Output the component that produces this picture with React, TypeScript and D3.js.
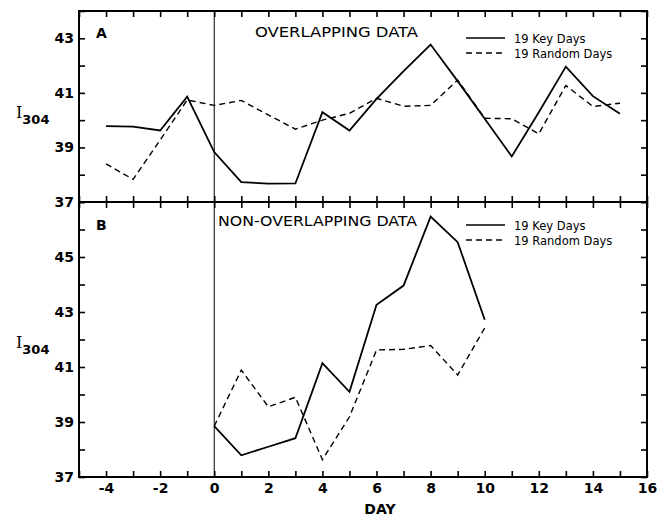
import React, { useRef, useEffect } from 'react';
import * as d3 from 'd3';

// panel A: overlapping data, days -4..15
const daysA = [-4, -3, -2, -1, 0, 1, 2, 3, 4, 5, 6, 7, 8, 9, 10, 11, 12, 13, 14, 15];
const keyA = [39.78, 39.76, 39.62, 40.86, 38.83, 37.73, 37.67, 37.68, 40.29, 39.62, 40.78, 41.8, 42.77, 41.43, 40.05, 38.67, 40.29, 41.96, 40.88, 40.23];
const randA = [38.4, 37.83, 39.27, 40.74, 40.54, 40.72, 40.19, 39.67, 40.0, 40.25, 40.8, 40.51, 40.54, 41.47, 40.07, 40.05, 39.5, 41.27, 40.5, 40.62];

// panel B: non-overlapping data, days 0..10
const daysB = [0, 1, 2, 3, 4, 5, 6, 7, 8, 9, 10];
const keyB = [38.85, 37.79, 38.1, 38.41, 41.14, 40.1, 43.26, 43.96, 46.47, 45.54, 42.72];
const randB = [38.85, 40.89, 39.55, 39.9, 37.63, 39.19, 41.62, 41.64, 41.78, 40.71, 42.42];

const xTicks = [-5, -4, -3, -2, -1, 0, 1, 2, 3, 4, 5, 6, 7, 8, 9, 10, 11, 12, 13, 14, 15, 16];
const xLabels = [-4, -2, 0, 2, 4, 6, 8, 10, 12, 14, 16];
const yTicksA = [37, 38, 39, 40, 41, 42, 43, 44];
const yLabelsA = [37, 39, 41, 43];
const yTicksB = [37, 38, 39, 40, 41, 42, 43, 44, 45, 46, 47];
const yLabelsB = [37, 39, 41, 43, 45];

const legendNames = ['19 Key Days', '19 Random Days'];

const App = () => {
    const svgRef = useRef<SVGSVGElement>(null);

    useEffect(() => {
        const svg = d3.select(svgRef.current);
        svg.selectAll('*').remove();

        const left = 79, right = 647, topA = 11, mid = 202, bottom = 477;
        const font = "'DejaVu Sans', sans-serif";

        const x = d3.scaleLinear().domain([-5, 16]).range([left, right]);
        const yA = d3.scaleLinear().domain([37, 44]).range([mid, topA]);
        const yB = d3.scaleLinear().domain([37, 47]).range([bottom, mid]);

        const styleAxis = (g: any) => {
            g.select('.domain').remove();
            g.selectAll('.tick line').attr('stroke', '#000').attr('stroke-width', 1.6);
            g.selectAll('.tick text')
                .attr('font-family', font)
                .attr('font-size', 14)
                .attr('font-weight', 'bold')
                .attr('fill', '#000');
        };

        const panels = [
            { y: yA, top: topA, bot: mid, ticks: yTicksA, labels: yLabelsA, days: daysA, key: keyA, rand: randA,
              letter: 'A', title: 'OVERLAPPING DATA', titleX: 255, titleW: 163, titleY: 37, legY: 38, ylabY: 118 },
            { y: yB, top: mid, bot: bottom, ticks: yTicksB, labels: yLabelsB, days: daysB, key: keyB, rand: randB,
              letter: 'B', title: 'NON-OVERLAPPING DATA', titleX: 218, titleW: 199, titleY: 226, legY: 225, ylabY: 348 },
        ];

        panels.forEach((p) => {
            // y axes, ticks pointing inward on both sides
            svg.append('g').attr('transform', `translate(${left},0)`)
                .call(d3.axisLeft(p.y).tickValues(p.ticks).tickSizeInner(-6).tickSizeOuter(0).tickPadding(5)
                    .tickFormat((d: any) => (p.labels.includes(d) ? String(d) : '')))
                .call(styleAxis);
            svg.append('g').attr('transform', `translate(${right},0)`)
                .call(d3.axisRight(p.y).tickValues(p.ticks).tickSizeInner(-6).tickSizeOuter(0).tickFormat(() => ''))
                .call(styleAxis);

            // x ticks on top and bottom edges, inward
            svg.append('g').attr('transform', `translate(0,${p.top})`)
                .call(d3.axisTop(x).tickValues(xTicks).tickSizeInner(-6).tickSizeOuter(0).tickFormat(() => ''))
                .call(styleAxis);
            const isBottom = p.bot === bottom;
            svg.append('g').attr('transform', `translate(0,${p.bot})`)
                .call(d3.axisBottom(x).tickValues(xTicks).tickSizeInner(-6).tickSizeOuter(0).tickPadding(6)
                    .tickFormat((d: any) => (isBottom && xLabels.includes(d) ? String(d) : '')))
                .call(styleAxis);

            // frame
            svg.append('rect')
                .attr('x', left).attr('y', p.top)
                .attr('width', right - left).attr('height', p.bot - p.top)
                .attr('fill', 'none').attr('stroke', '#000').attr('stroke-width', 2);

            // day zero line
            svg.append('line')
                .attr('x1', x(0)).attr('x2', x(0))
                .attr('y1', p.top).attr('y2', p.bot)
                .attr('stroke', '#000').attr('stroke-width', 1);

            const line = d3.line<number>().x((d, i) => x(p.days[i])).y((d) => p.y(d));

            svg.append('path').datum(p.key).attr('d', line)
                .attr('fill', 'none').attr('stroke', '#000').attr('stroke-width', 1.8);
            svg.append('path').datum(p.rand).attr('d', line)
                .attr('fill', 'none').attr('stroke', '#000').attr('stroke-width', 1.4)
                .attr('stroke-dasharray', '6,4');

            // panel letter and title
            svg.append('text').attr('x', 96).attr('y', p.titleY + (p.letter === 'A' ? 1 : 4))
                .attr('font-family', font).attr('font-size', 14).attr('font-weight', 'bold')
                .text(p.letter);
            svg.append('text').attr('x', p.titleX).attr('y', p.titleY)
                .attr('font-family', font).attr('font-size', 14)
                .attr('textLength', p.titleW).attr('lengthAdjust', 'spacingAndGlyphs')
                .text(p.title);

            // legend
            legendNames.forEach((name, i) => {
                const ly = p.legY + i * 15;
                svg.append('line')
                    .attr('x1', 466).attr('x2', 505).attr('y1', ly).attr('y2', ly)
                    .attr('stroke', '#000').attr('stroke-width', i === 0 ? 1.6 : 1.3)
                    .attr('stroke-dasharray', i === 0 ? null : '6,4');
                svg.append('text').attr('x', 514).attr('y', ly + 4.5)
                    .attr('font-family', font).attr('font-size', 11.5)
                    .text(name);
            });

            // y label
            const yl = svg.append('text').attr('x', 16).attr('y', p.ylabY)
                .attr('font-family', "'DejaVu Serif', serif").attr('font-size', 16);
            yl.append('tspan').text('I');
            yl.append('tspan').attr('dy', 6).attr('font-family', font).attr('font-size', 13)
                .attr('font-weight', 'bold').text('304');
        });

        svg.append('text').attr('x', 380).attr('y', 514)
            .attr('text-anchor', 'middle')
            .attr('font-family', font).attr('font-size', 14).attr('font-weight', 'bold')
            .text('DAY');
    }, []);

    return (
        <svg ref={svgRef} width={663} height={516}
            style={{ position: 'absolute', left: 0, top: 0, background: '#fff' }} />
    );
};

export default App;
